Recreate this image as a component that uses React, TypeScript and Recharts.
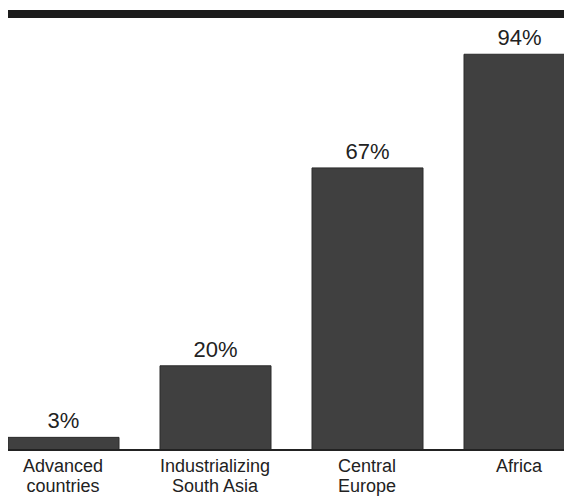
import { BarChart, Bar, XAxis, YAxis, LabelList } from 'recharts';

const regions = ['Advanced\ncountries', 'Industrializing\nSouth Asia', 'Central\nEurope', 'Africa'];
const shares = [3, 20, 67, 94];

const data = regions.map((region, i) => ({ region, share: shares[i] }));

const FONT = '"Liberation Sans", Arial, Helvetica, sans-serif';

function RegionTick({ x, y, payload }: { x?: number; y?: number; payload?: { value: string } }) {
  const lines = String(payload?.value ?? '').split('\n');
  return (
    <text x={x} y={(y ?? 0) + 14} textAnchor="middle" fontFamily={FONT} fontSize={18} fill="#222">
      {lines.map((line, i) => (
        <tspan key={line} x={x} dy={i === 0 ? 0 : 20}>
          {line}
        </tspan>
      ))}
    </text>
  );
}

export default function App() {
  return (
    <div style={{ position: 'absolute', left: 8, top: 0, width: 556, height: 502, overflow: 'hidden', background: '#fff' }}>
      {/* heavy rule across the top */}
      <div style={{ position: 'absolute', left: 0, top: 10, width: 556, height: 8, background: '#1c1c1c' }} />
      <div style={{ position: 'absolute', left: -21, top: 0 }}>
        <BarChart width={608} height={502} data={data} margin={{ top: 29, right: 0, left: 0, bottom: 0 }}>
          <YAxis hide domain={[0, 100]} />
          <XAxis
            dataKey="region"
            interval={0}
            tickLine={false}
            axisLine={{ stroke: '#222', strokeWidth: 2 }}
            tick={<RegionTick />}
            height={52}
          />
          <Bar dataKey="share" fill="#404040" stroke="#2b2b2b" strokeWidth={1} barSize={111} isAnimationActive={false}>
            <LabelList
              dataKey="share"
              position="top"
              offset={9}
              formatter={(v: number) => `${v}%`}
              style={{ fontFamily: FONT, fontSize: 22, fill: '#222' }}
            />
          </Bar>
        </BarChart>
      </div>
    </div>
  );
}
